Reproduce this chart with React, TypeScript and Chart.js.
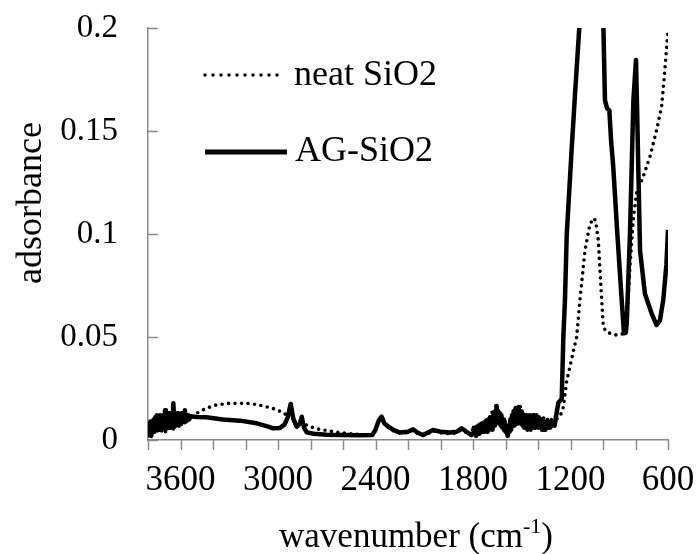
import React, { useEffect, useRef } from "react";
import { Chart, registerables } from "chart.js";

Chart.register(...registerables);

// ---------- data ----------
const seriesNames = ["neat SiO2", "AG-SiO2"];

// [wavenumber (cm-1), absorbance]
const neatSpectrum: [number, number][] = [
  [3800, 0.002], [3794, 0.005], [3788, 0.002], [3782, 0.006], [3776, 0.003], [3770, 0.007], [3764, 0.003],
  [3758, 0.008], [3752, 0.004], [3746, 0.008], [3740, 0.004], [3734, 0.009], [3728, 0.004], [3722, 0.008],
  [3716, 0.004], [3710, 0.008], [3704, 0.005], [3698, 0.009], [3692, 0.004], [3686, 0.008], [3680, 0.004],
  [3674, 0.008], [3668, 0.005], [3662, 0.009], [3656, 0.005], [3650, 0.009], [3644, 0.005], [3638, 0.009],
  [3632, 0.005], [3626, 0.009], [3620, 0.006], [3614, 0.01], [3608, 0.006], [3602, 0.009], [3596, 0.007],
  [3590, 0.0095], [3584, 0.008], [3578, 0.0095], [3572, 0.008], [3566, 0.0095], [3560, 0.009], [3540, 0.0105],
  [3500, 0.013], [3440, 0.0155], [3380, 0.017], [3300, 0.0178], [3234, 0.0178], [3180, 0.0177], [3131, 0.0172],
  [3080, 0.0163], [3030, 0.0153], [2990, 0.014], [2960, 0.0125], [2940, 0.013], [2922, 0.0165], [2905, 0.01],
  [2885, 0.0085], [2860, 0.0075], [2823, 0.0073], [2770, 0.0055], [2721, 0.0049], [2660, 0.004], [2618, 0.0036],
  [2550, 0.003], [2480, 0.0025], [2420, 0.0024], [2400, 0.0045], [2380, 0.009], [2362, 0.0105], [2345, 0.0075],
  [2320, 0.006], [2290, 0.0045], [2250, 0.0035], [2200, 0.0035], [2169, 0.0048], [2140, 0.003], [2108, 0.0022],
  [2080, 0.003], [2046, 0.0045], [2000, 0.0035], [1942, 0.003], [1900, 0.0035], [1870, 0.005], [1840, 0.0035],
  [1809, 0.002], [1803, 0.005], [1797, 0.003], [1791, 0.006], [1785, 0.003], [1779, 0.007], [1773, 0.004],
  [1767, 0.007], [1761, 0.004], [1755, 0.008], [1749, 0.005], [1743, 0.009], [1737, 0.005], [1731, 0.009],
  [1725, 0.006], [1719, 0.01], [1713, 0.007], [1707, 0.011], [1701, 0.008], [1695, 0.012], [1689, 0.009],
  [1683, 0.0135], [1677, 0.01], [1671, 0.015], [1665, 0.011], [1659, 0.017], [1653, 0.012], [1647, 0.014],
  [1641, 0.01], [1635, 0.013], [1629, 0.008], [1623, 0.011], [1617, 0.006], [1611, 0.009], [1605, 0.005],
  [1599, 0.008], [1593, 0.003], [1587, 0.006], [1581, 0.004], [1575, 0.009], [1569, 0.007], [1563, 0.011],
  [1557, 0.009], [1551, 0.013], [1545, 0.011], [1539, 0.0165], [1533, 0.012], [1527, 0.014], [1521, 0.011],
  [1515, 0.016], [1509, 0.017], [1503, 0.012], [1497, 0.014], [1491, 0.01], [1485, 0.014], [1479, 0.01],
  [1473, 0.013], [1467, 0.009], [1461, 0.012], [1455, 0.009], [1449, 0.012], [1443, 0.009], [1437, 0.012],
  [1431, 0.009], [1425, 0.012], [1419, 0.009], [1413, 0.011], [1407, 0.008], [1401, 0.012], [1395, 0.008],
  [1389, 0.011], [1383, 0.008], [1377, 0.01], [1371, 0.008], [1365, 0.011], [1359, 0.008], [1353, 0.01],
  [1347, 0.008], [1341, 0.01], [1335, 0.008], [1329, 0.01], [1323, 0.009], [1317, 0.01], [1308, 0.0095],
  [1295, 0.0097], [1265, 0.0113], [1244, 0.016], [1223, 0.029], [1203, 0.0356], [1183, 0.043],
  [1162, 0.05], [1142, 0.068], [1111, 0.092], [1080, 0.105], [1055, 0.1077], [1045, 0.106], [1029, 0.097],
  [1014, 0.076], [998, 0.055], [980, 0.0525], [957, 0.0518], [920, 0.051], [895, 0.051], [870, 0.052],
  [854, 0.0566], [834, 0.084], [813, 0.108], [793, 0.12], [752, 0.128], [711, 0.1375], [670, 0.1505],
  [639, 0.162], [618, 0.181], [600, 0.199],
];

const agSpectrum: [number, number][] = [
  [3800, 0.004], [3795, 0.008], [3790, 0.003], [3785, 0.009], [3780, 0.002], [3775, 0.008], [3770, 0.004],
  [3765, 0.01], [3760, 0.004], [3755, 0.011], [3750, 0.006], [3745, 0.012], [3740, 0.006], [3735, 0.011],
  [3730, 0.005], [3725, 0.012], [3720, 0.005], [3715, 0.011], [3710, 0.006], [3705, 0.012], [3700, 0.007],
  [3695, 0.0145], [3690, 0.006], [3685, 0.012], [3680, 0.007], [3675, 0.013], [3670, 0.007], [3665, 0.013],
  [3660, 0.006], [3655, 0.012], [3650, 0.007], [3644, 0.0178], [3638, 0.007], [3633, 0.012], [3628, 0.008],
  [3623, 0.013], [3618, 0.008], [3613, 0.013], [3608, 0.008], [3603, 0.012], [3598, 0.009], [3593, 0.013],
  [3588, 0.009], [3583, 0.013], [3578, 0.01], [3573, 0.0145], [3568, 0.009], [3563, 0.012], [3558, 0.01],
  [3552, 0.012], [3546, 0.01], [3540, 0.0115],
  [3500, 0.0112], [3440, 0.011], [3340, 0.01], [3234, 0.0094], [3131, 0.0081], [3060, 0.0065], [3030, 0.0057],
  [2990, 0.0058], [2960, 0.0075], [2940, 0.011], [2922, 0.0175], [2905, 0.01], [2885, 0.0065], [2865, 0.008],
  [2854, 0.0113], [2840, 0.006], [2823, 0.0037], [2780, 0.003], [2700, 0.0026], [2600, 0.0024], [2500, 0.0023],
  [2420, 0.0024], [2400, 0.005], [2380, 0.0095], [2362, 0.0113], [2345, 0.008], [2320, 0.0065], [2290, 0.0049],
  [2250, 0.0036], [2200, 0.004], [2169, 0.0052], [2140, 0.0035], [2108, 0.0024], [2080, 0.0035], [2046, 0.0049],
  [2000, 0.004], [1942, 0.0036], [1900, 0.004], [1870, 0.0057], [1840, 0.004], [1809, 0.0024],
  [1800, 0.003], [1795, 0.006], [1790, 0.003], [1785, 0.005], [1780, 0.002], [1775, 0.006], [1770, 0.003],
  [1765, 0.007], [1760, 0.003], [1755, 0.006], [1750, 0.004], [1745, 0.008], [1740, 0.004], [1735, 0.007],
  [1730, 0.004], [1725, 0.009], [1720, 0.005], [1715, 0.008], [1710, 0.004], [1705, 0.01], [1700, 0.005],
  [1695, 0.011], [1690, 0.006], [1685, 0.01], [1680, 0.005], [1675, 0.012], [1670, 0.007], [1665, 0.013],
  [1660, 0.008], [1655, 0.0165], [1650, 0.01], [1645, 0.014], [1640, 0.008], [1635, 0.013], [1630, 0.007],
  [1625, 0.012], [1620, 0.006], [1615, 0.01], [1610, 0.005], [1605, 0.009], [1600, 0.004], [1595, 0.007],
  [1590, 0.003], [1586, 0.002], [1580, 0.007], [1575, 0.004], [1570, 0.01], [1565, 0.005], [1560, 0.012],
  [1555, 0.007], [1550, 0.014], [1545, 0.007], [1540, 0.015], [1535, 0.008], [1530, 0.013], [1525, 0.008],
  [1520, 0.016], [1515, 0.009], [1510, 0.014], [1505, 0.008], [1500, 0.013], [1495, 0.007], [1490, 0.012],
  [1485, 0.006], [1480, 0.012], [1475, 0.006], [1470, 0.011], [1465, 0.005], [1460, 0.011], [1455, 0.006],
  [1450, 0.012], [1445, 0.005], [1440, 0.011], [1435, 0.006], [1430, 0.012], [1425, 0.006], [1420, 0.011],
  [1415, 0.006], [1410, 0.012], [1405, 0.007], [1400, 0.011], [1395, 0.006], [1390, 0.01], [1385, 0.006],
  [1380, 0.01], [1375, 0.005], [1370, 0.009], [1365, 0.005], [1360, 0.009], [1355, 0.005], [1350, 0.009],
  [1345, 0.006], [1340, 0.009], [1335, 0.006], [1330, 0.008], [1325, 0.006], [1320, 0.009], [1313, 0.007],
  [1306, 0.0085], [1298, 0.007], [1290, 0.011],
  [1275, 0.018], [1254, 0.02], [1244, 0.05], [1234, 0.068], [1223, 0.1], [1193, 0.141],
  [1172, 0.168], [1142, 0.205], [1100, 0.26], [1075, 0.29], [1040, 0.26], [1000, 0.21], [988, 0.165],
  [975, 0.161], [961, 0.16], [950, 0.145], [937, 0.1327], [912, 0.1003], [885, 0.068], [871, 0.0518],
  [860, 0.052], [854, 0.0566], [834, 0.1], [813, 0.165], [797, 0.1845], [790, 0.16], [783, 0.1327],
  [772, 0.092], [742, 0.071], [701, 0.0615], [670, 0.0558], [650, 0.058], [629, 0.068], [610, 0.085],
  [600, 0.102],
];

const xTickLabels = [3600, 3000, 2400, 1800, 1200, 600];
const yTickLabels = [0, 0.05, 0.1, 0.15, 0.2];

const xTitleMain = "wavenumber (cm";
const xTitleSup = "-1";
const xTitleEnd = ")";
const yTitle = "adsorbance";

// ---------- style ----------
const FONT = "'Liberation Serif', 'Times New Roman', serif";
const AXIS_COLOR = "#8a8a8a";
const DOT_DASH = [0, 6.5];

const overlay = {
  id: "overlay",
  afterDraw(chart: any) {
    const { ctx, chartArea, scales } = chart;
    const xs = scales.x;
    const ys = scales.y;
    ctx.save();
    // tick marks
    ctx.strokeStyle = AXIS_COLOR;
    ctx.lineWidth = 1.5;
    ctx.setLineDash([]);
    ctx.beginPath();
    for (const t of xs.ticks) {
      const px = Math.round(xs.getPixelForValue(t.value)) + 0.5;
      ctx.moveTo(px, chartArea.bottom);
      ctx.lineTo(px, chartArea.bottom + 10);
    }
    for (const t of ys.ticks) {
      const py = Math.round(ys.getPixelForValue(t.value)) + 0.5;
      ctx.moveTo(chartArea.left, py);
      ctx.lineTo(chartArea.left + 10, py);
    }
    ctx.stroke();

    // legend
    const lx = chartArea.left + 57;
    ctx.strokeStyle = "#000";
    ctx.lineCap = "round";
    ctx.lineWidth = 3.4;
    ctx.setLineDash([0, 8]);
    ctx.beginPath();
    ctx.moveTo(lx, chartArea.top + 47);
    ctx.lineTo(lx + 75, chartArea.top + 47);
    ctx.stroke();
    ctx.setLineDash([]);
    ctx.lineCap = "butt";
    ctx.lineWidth = 5;
    ctx.beginPath();
    ctx.moveTo(lx, chartArea.top + 124);
    ctx.lineTo(lx + 82, chartArea.top + 124);
    ctx.stroke();

    ctx.fillStyle = "#000";
    ctx.font = `36px ${FONT}`;
    ctx.textAlign = "left";
    ctx.textBaseline = "middle";
    ctx.fillText(seriesNames[0], chartArea.left + 146, chartArea.top + 48);
    ctx.fillText(seriesNames[1], chartArea.left + 147, chartArea.top + 124);

    // x title with superscript
    const mainFont = `35px ${FONT}`;
    const supFont = `22px ${FONT}`;
    ctx.textBaseline = "alphabetic";
    ctx.font = mainFont;
    const wMain = ctx.measureText(xTitleMain).width;
    const wEnd = ctx.measureText(xTitleEnd).width;
    ctx.font = supFont;
    const wSup = ctx.measureText(xTitleSup).width;
    const total = wMain + wSup + wEnd;
    let tx = (chartArea.left + chartArea.right) / 2 + 8 - total / 2;
    const baseY = 547;
    ctx.font = mainFont;
    ctx.fillText(xTitleMain, tx, baseY);
    tx += wMain;
    ctx.font = supFont;
    ctx.fillText(xTitleSup, tx, baseY - 14);
    tx += wSup;
    ctx.font = mainFont;
    ctx.fillText(xTitleEnd, tx, baseY);

    // y title
    ctx.save();
    ctx.translate(32, 203);
    ctx.rotate(-Math.PI / 2);
    ctx.font = `36px ${FONT}`;
    ctx.textAlign = "center";
    ctx.textBaseline = "middle";
    ctx.fillText(yTitle, 0, 0);
    ctx.restore();

    ctx.restore();
  },
};

export default function App() {
  const ref = useRef<HTMLCanvasElement | null>(null);

  useEffect(() => {
    if (!ref.current) return;
    const chart = new Chart(ref.current, {
      type: "line",
      data: {
        datasets: [
          {
            label: seriesNames[0],
            data: neatSpectrum.map(([w, a]) => ({ x: w, y: a })),
            borderColor: "#000",
            borderWidth: 3.6,
            borderDash: DOT_DASH,
            borderCapStyle: "round",
            pointRadius: 0,
            tension: 0,
            fill: false,
          },
          {
            label: seriesNames[1],
            data: agSpectrum.map(([w, a]) => ({ x: w, y: a })),
            borderColor: "#000",
            borderWidth: 4.5,
            borderJoinStyle: "round",
            pointRadius: 0,
            tension: 0,
            fill: false,
          },
        ],
      },
      options: {
        animation: false,
        responsive: false,
        maintainAspectRatio: false,
        layout: { padding: { left: 0, right: 30, top: 28, bottom: 0 } },
        plugins: {
          legend: { display: false },
          tooltip: { enabled: false },
        },
        scales: {
          x: {
            type: "linear",
            reverse: true,
            min: 600,
            max: 3800,
            grid: { display: false, drawTicks: false },
            border: { display: true, color: AXIS_COLOR, width: 1.5 },
            ticks: {
              stepSize: 200,
              autoSkip: false,
              maxRotation: 0,
              padding: 20,
              color: "#000",
              font: { family: FONT, size: 35 },
              callback: (v: any) => (xTickLabels.includes(Number(v)) ? String(v) : ""),
            },
            afterFit: (s: any) => {
              s.height = 114;
              s.paddingLeft = 0;
              s.paddingRight = 0;
            },
          },
          y: {
            type: "linear",
            min: 0,
            max: 0.2,
            grid: { display: false, drawTicks: false },
            border: { display: true, color: AXIS_COLOR, width: 1.5 },
            ticks: {
              stepSize: 0.05,
              padding: 30,
              color: "#000",
              font: { family: FONT, size: 33 },
              callback: (v: any) => {
                const m = yTickLabels.find((t) => Math.abs(t - Number(v)) < 1e-6);
                return m === undefined ? "" : String(m);
              },
            },
            afterFit: (s: any) => {
              s.width = 148;
              s.paddingTop = 0;
              s.paddingBottom = 0;
            },
          },
        },
      },
      plugins: [overlay],
    } as any);
    return () => chart.destroy();
  }, []);

  return (
    <div style={{ position: "absolute", left: 0, top: 0, width: 698, height: 554, background: "#fff" }}>
      <canvas ref={ref} width={698} height={554} style={{ display: "block" }} />
    </div>
  );
}
